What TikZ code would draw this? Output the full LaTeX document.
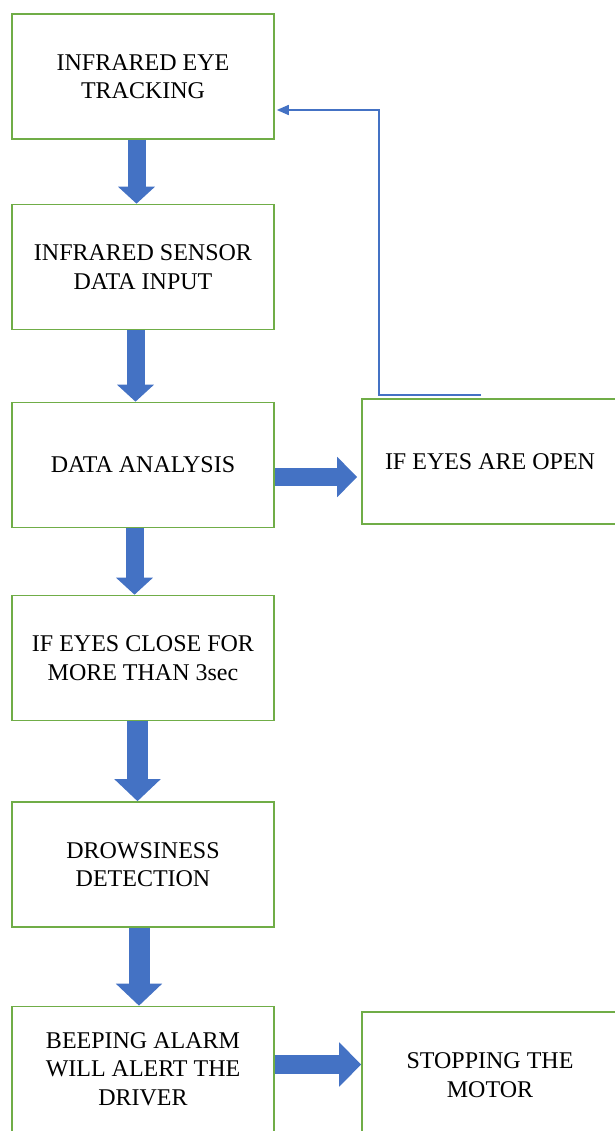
\documentclass[tikz,border=0pt]{standalone}
\usepackage{fontspec}
\setmainfont{Liberation Serif}
\usetikzlibrary{arrows.meta}

\definecolor{boxgreen}{HTML}{70AD47}
\definecolor{flowblue}{HTML}{4472C4}

\tikzset{
  stepbox/.style={draw=boxgreen, line width=1.6pt, fill=white,
    minimum width=262pt, minimum height=125pt, align=center,
    inner sep=0pt, font=\fontsize{24}{28.5}\selectfont},
  flow/.style={flowblue, line width=18pt, -{Triangle[width=36pt,length=17pt]}},
  flowwide/.style={flowblue, line width=21pt, -{Triangle[width=45pt,length=22pt]}},
  loopback/.style={flowblue, line width=1.6pt, -{Triangle[width=10pt,length=12pt]}, shorten >=2pt}
}

\begin{document}
\begin{tikzpicture}[x=1pt,y=-1pt]
  \useasboundingbox (0,0) rectangle (614,1131);
  % left column
  \node[stepbox] (track) at (143,76.5) {INFRARED EYE\\TRACKING};
  \node[stepbox] (input) at (143,267) {INFRARED SENSOR\\DATA INPUT};
  \node[stepbox] (analysis) at (143,465) {DATA ANALYSIS};
  \node[stepbox] (closed) at (143,658) {IF EYES CLOSE FOR\\MORE THAN 3sec};
  \node[stepbox] (drowsy) at (143,864.5) {DROWSINESS\\DETECTION};
  \node[stepbox] (alarm) at (143,1069) {BEEPING ALARM\\WILL ALERT THE\\DRIVER};
  % right column
  \node[stepbox, minimum width=256pt] (open) at (490,461.5) {IF EYES ARE OPEN};
  \node[stepbox, minimum width=256pt, minimum height=126pt] (motor) at (490,1075) {STOPPING THE\\MOTOR};
  % block arrows
  \draw[flow] ([xshift=-6.5pt]track.south) -- ([xshift=-6.5pt]input.north);
  \draw[flow] ([xshift=-7.5pt]input.south) -- ([xshift=-7.5pt]analysis.north);
  \draw[flow] ([xshift=-8.5pt]analysis.south) -- ([xshift=-8.5pt]closed.north);
  \draw[flowwide] ([xshift=-5.5pt]closed.south) -- ([xshift=-5.5pt]drowsy.north);
  \draw[flowwide] ([xshift=-4pt]drowsy.south) -- ([xshift=-4pt]alarm.north);
  \draw[flow, -{Triangle[width=39pt,length=20pt]}, shorten >=4pt] ([yshift=-12pt]analysis.east) -- ([yshift=-12pt]analysis.east -| open.west);
  \draw[flow, line width=19pt, -{Triangle[width=43pt,length=22pt]}] ([yshift=4.5pt]alarm.east) -- ([yshift=4.5pt]alarm.east -| motor.west);
  % feedback line
  \draw[loopback] ([xshift=-9pt,yshift=3pt]open.north) -- ++(-102pt,0) |- ([yshift=-33.5pt]track.east);
\end{tikzpicture}
\end{document}
